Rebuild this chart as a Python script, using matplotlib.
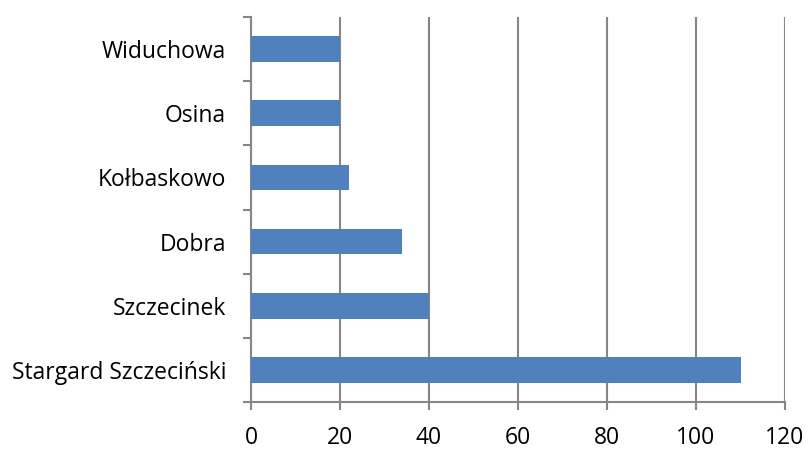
import matplotlib
matplotlib.use("Agg")
import matplotlib.pyplot as plt
import numpy as np

categories = ["Stargard Szczeciński", "Szczecinek", "Dobra", "Kołbaskowo", "Osina", "Widuchowa"]
values = [110, 40, 34, 22, 20, 20]
xticks = [0, 20, 40, 60, 80, 100, 120]

plt.rcParams['font.family'] = ['Open Sans', 'DejaVu Sans']

fig = plt.figure(figsize=(8.09, 4.51), dpi=100)
ax = fig.add_axes([251/809, 49/451, 534/809, 385/451])

y = np.arange(len(categories))
ax.barh(y, values, height=0.4, color="#4F81BD", zorder=3)

ax.set_xlim(0, 120)
ax.set_ylim(-0.5, len(categories) - 0.5)
ax.set_xticks(xticks)
ax.set_xticklabels([str(v) for v in xticks])
ax.set_yticks(y)
ax.set_yticklabels(categories)
ax.set_yticks(np.arange(-0.5, len(categories), 1), minor=True)

grid_c = "#868686"
ax.grid(axis="x", color=grid_c, linewidth=1.5, zorder=0)
for s in ["top", "right"]:
    ax.spines[s].set_visible(False)
ax.spines["left"].set_color(grid_c)
ax.spines["left"].set_linewidth(1.5)
ax.spines["bottom"].set_color(grid_c)
ax.spines["bottom"].set_linewidth(1.5)

ax.tick_params(axis="y", which="major", length=0, pad=18, labelsize=16.5, colors="black")
ax.tick_params(axis="y", which="minor", length=6, width=1.5, color=grid_c)
ax.tick_params(axis="x", length=6, width=1.5, color=grid_c, pad=11, labelsize=16.5, labelcolor="black")

fig.savefig("out.png", dpi=100)
